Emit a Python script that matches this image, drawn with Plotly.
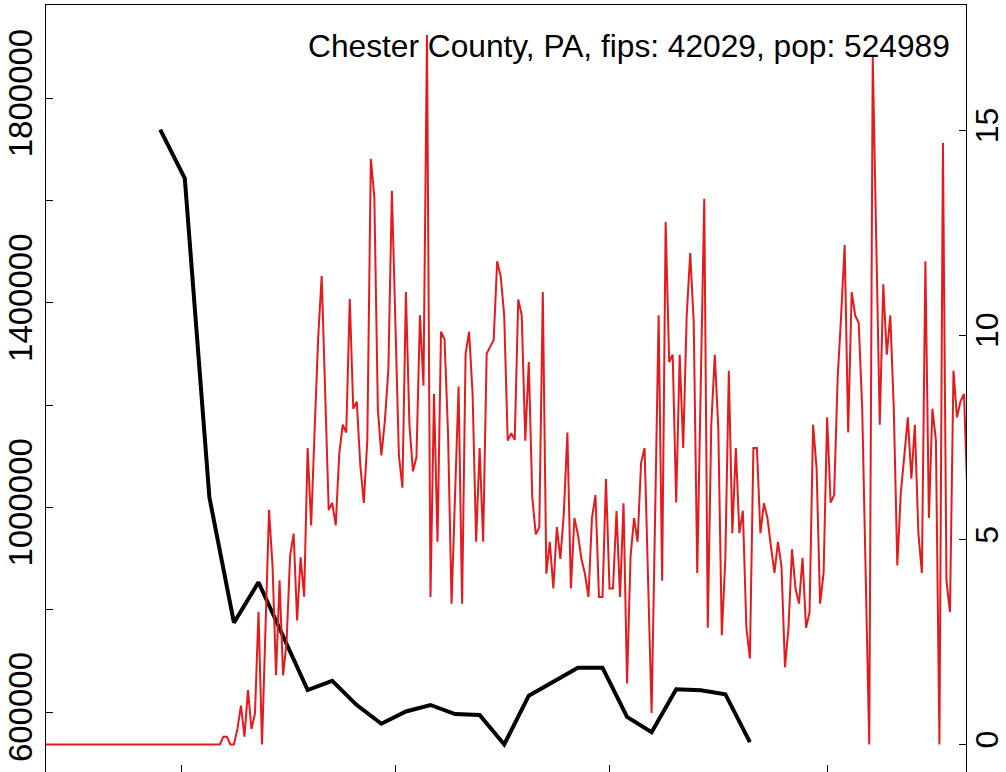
import pandas as pd
import plotly.graph_objects as go

# ---- data ----
red_start = "2020-01-22"  # daily series (per 100k)
red_values = [
    0, 0, 0, 0, 0, 0, 0, 0, 0, 0,
    0, 0, 0, 0, 0, 0, 0, 0, 0, 0,
    0, 0, 0, 0, 0, 0, 0, 0, 0, 0,
    0, 0, 0, 0, 0, 0, 0, 0, 0, 0,
    0, 0, 0, 0, 0, 0, 0, 0, 0, 0,
    0, 0.19, 0.19, 0, 0, 0.38, 0.95, 0.19, 1.33, 0.38,
    0.76, 3.24, 0, 2.86, 5.73, 4.36, 1.69, 4.01, 1.69, 2.5,
    4.6, 5.15, 3.03, 4.57, 3.61, 7.24, 5.35, 7.7, 9.93, 11.44,
    8.6, 5.73, 5.9, 5.35, 7.09, 7.81, 7.62, 10.88, 8.2, 8.37,
    6.83, 5.9, 7.43, 14.3, 13.37, 8.2, 7.06, 7.9, 9.16, 13.52,
    10.3, 7.06, 6.27, 11.05, 7.81, 6.67, 7.02, 10.48, 8.76, 17.33,
    3.6, 8.56, 4.95, 10.08, 9.9, 7.6, 3.44, 6.09, 8.74, 3.44,
    9.54, 10.08, 8.56, 4.95, 7.24, 4.95, 9.54, 9.71, 9.88, 11.8,
    11.44, 10.48, 7.42, 7.6, 7.44, 10.87, 10.48, 7.42, 9.34, 6.03,
    5.13, 5.31, 11.05, 4.17, 4.95, 3.81, 5.31, 4.53, 5.67, 7.62,
    3.81, 5.53, 5.13, 4.53, 4.17, 3.6, 5.53, 6.09, 3.6, 3.6,
    6.48, 3.81, 3.81, 5.7, 3.6, 5.89, 1.49, 4.59, 5.53, 4.95,
    6.88, 7.24, 4.0, 0.77, 5.6, 10.48, 4.0, 12.76, 9.34, 9.52,
    5.91, 9.52, 7.24, 10.48, 12.0, 10.3, 4.19, 8.68, 13.33, 2.85,
    7.81, 9.52, 7.72, 2.67, 4.53, 9.13, 5.16, 7.24, 5.16, 5.71,
    2.85, 2.1, 7.24, 7.24, 5.16, 5.89, 5.53, 4.83, 4.19, 4.95,
    4.35, 1.89, 2.85, 4.77, 3.81, 3.44, 4.56, 2.85, 3.23, 7.81,
    6.75, 3.44, 4.19, 7.99, 5.91, 6.09, 8.94, 10.48, 12.2, 7.62,
    11.05, 10.48, 10.3, 8.2, 4.1, 0, 16.8, 12.3, 7.81, 11.24,
    9.52, 10.48, 8.2, 4.37, 6.15, 7.06, 7.99, 6.49, 7.81, 5.16,
    4.19, 11.8, 5.53, 8.2, 7.42, 0, 14.69, 4.0, 3.23, 9.13,
    7.99, 8.38, 8.56, 6.0,
]

black_start = "2020-02-24"  # weekly series
black_values = [
    1738000, 1643000, 1020000, 774500, 853500, 748500, 643000, 661000,
    613500, 577000, 601000, 613700, 596000, 594100, 536500, 631900,
    658600, 686600, 686600, 590400, 560500, 644400, 642400, 634800,
    541100,
]

left_ticks = [600000, 800000, 1000000, 1200000, 1400000, 1600000, 1800000]
left_tick_text = ["600000", "", "1000000", "", "1400000", "", "1800000"]
right_ticks = [0, 5, 10, 15]
x_ticks = ["2020-03-01", "2020-05-01", "2020-07-01", "2020-09-01"]
title_text = "Chester County, PA, fips: 42029, pop: 524989"

red_dates = pd.date_range(red_start, periods=len(red_values), freq="D")
black_dates = pd.date_range(black_start, periods=len(black_values), freq="7D")

FONT = "Liberation Sans, Arial, Helvetica, sans-serif"

fig = go.Figure()
fig.add_trace(go.Scatter(
    x=black_dates, y=black_values, mode="lines",
    line=dict(color="black", width=4), yaxis="y", showlegend=False,
))
fig.add_trace(go.Scatter(
    x=red_dates, y=red_values, mode="lines",
    line=dict(color="#E41A1C", width=2), yaxis="y2", showlegend=False,
))

fig.update_layout(
    width=1006, height=772,
    margin=dict(l=46, r=40, t=5, b=0, pad=0, autoexpand=False),
    paper_bgcolor="white", plot_bgcolor="white",
    font=dict(family=FONT, color="black", size=33),
    xaxis=dict(
        type="date", range=["2020-01-22 11:00", "2020-10-10 13:40"],
        tickvals=x_ticks, showticklabels=False, automargin=False,
        ticks="inside", ticklen=7, tickwidth=1.3, tickcolor="black",
        showgrid=False, zeroline=False,
        showline=True, linecolor="black", linewidth=1.3, mirror=True,
    ),
    yaxis=dict(
        range=[482740, 1981760], automargin=False,
        tickvals=left_ticks, ticktext=left_tick_text,
        tickangle=-90, ticks="inside", ticklen=7, tickwidth=1.3, tickcolor="black",
        showgrid=False, zeroline=False,
        showline=True, linecolor="black", linewidth=1.3, mirror=True,
        tickfont=dict(size=33),
    ),
    yaxis2=dict(
        range=[-0.672, 18.06], overlaying="y", side="right", automargin=False,
        tickvals=right_ticks, tickangle=-90, ticklabelstandoff=-8,
        ticks="inside", ticklen=7, tickwidth=1.3, tickcolor="black",
        showgrid=False, zeroline=False,
        showline=True, linecolor="black", linewidth=1.3,
        tickfont=dict(size=32),
    ),
    annotations=[dict(
        text=title_text, xref="paper", yref="paper",
        x=(952 - 46) / 920, y=1 - (46 - 5) / 767,
        xanchor="right", yanchor="middle", showarrow=False,
        font=dict(size=31.7, family=FONT, color="black"),
    )],
)

fig.write_html(
    "out.html",
    config={"displayModeBar": False},
    post_script="document.body.style.margin='0';",
)
